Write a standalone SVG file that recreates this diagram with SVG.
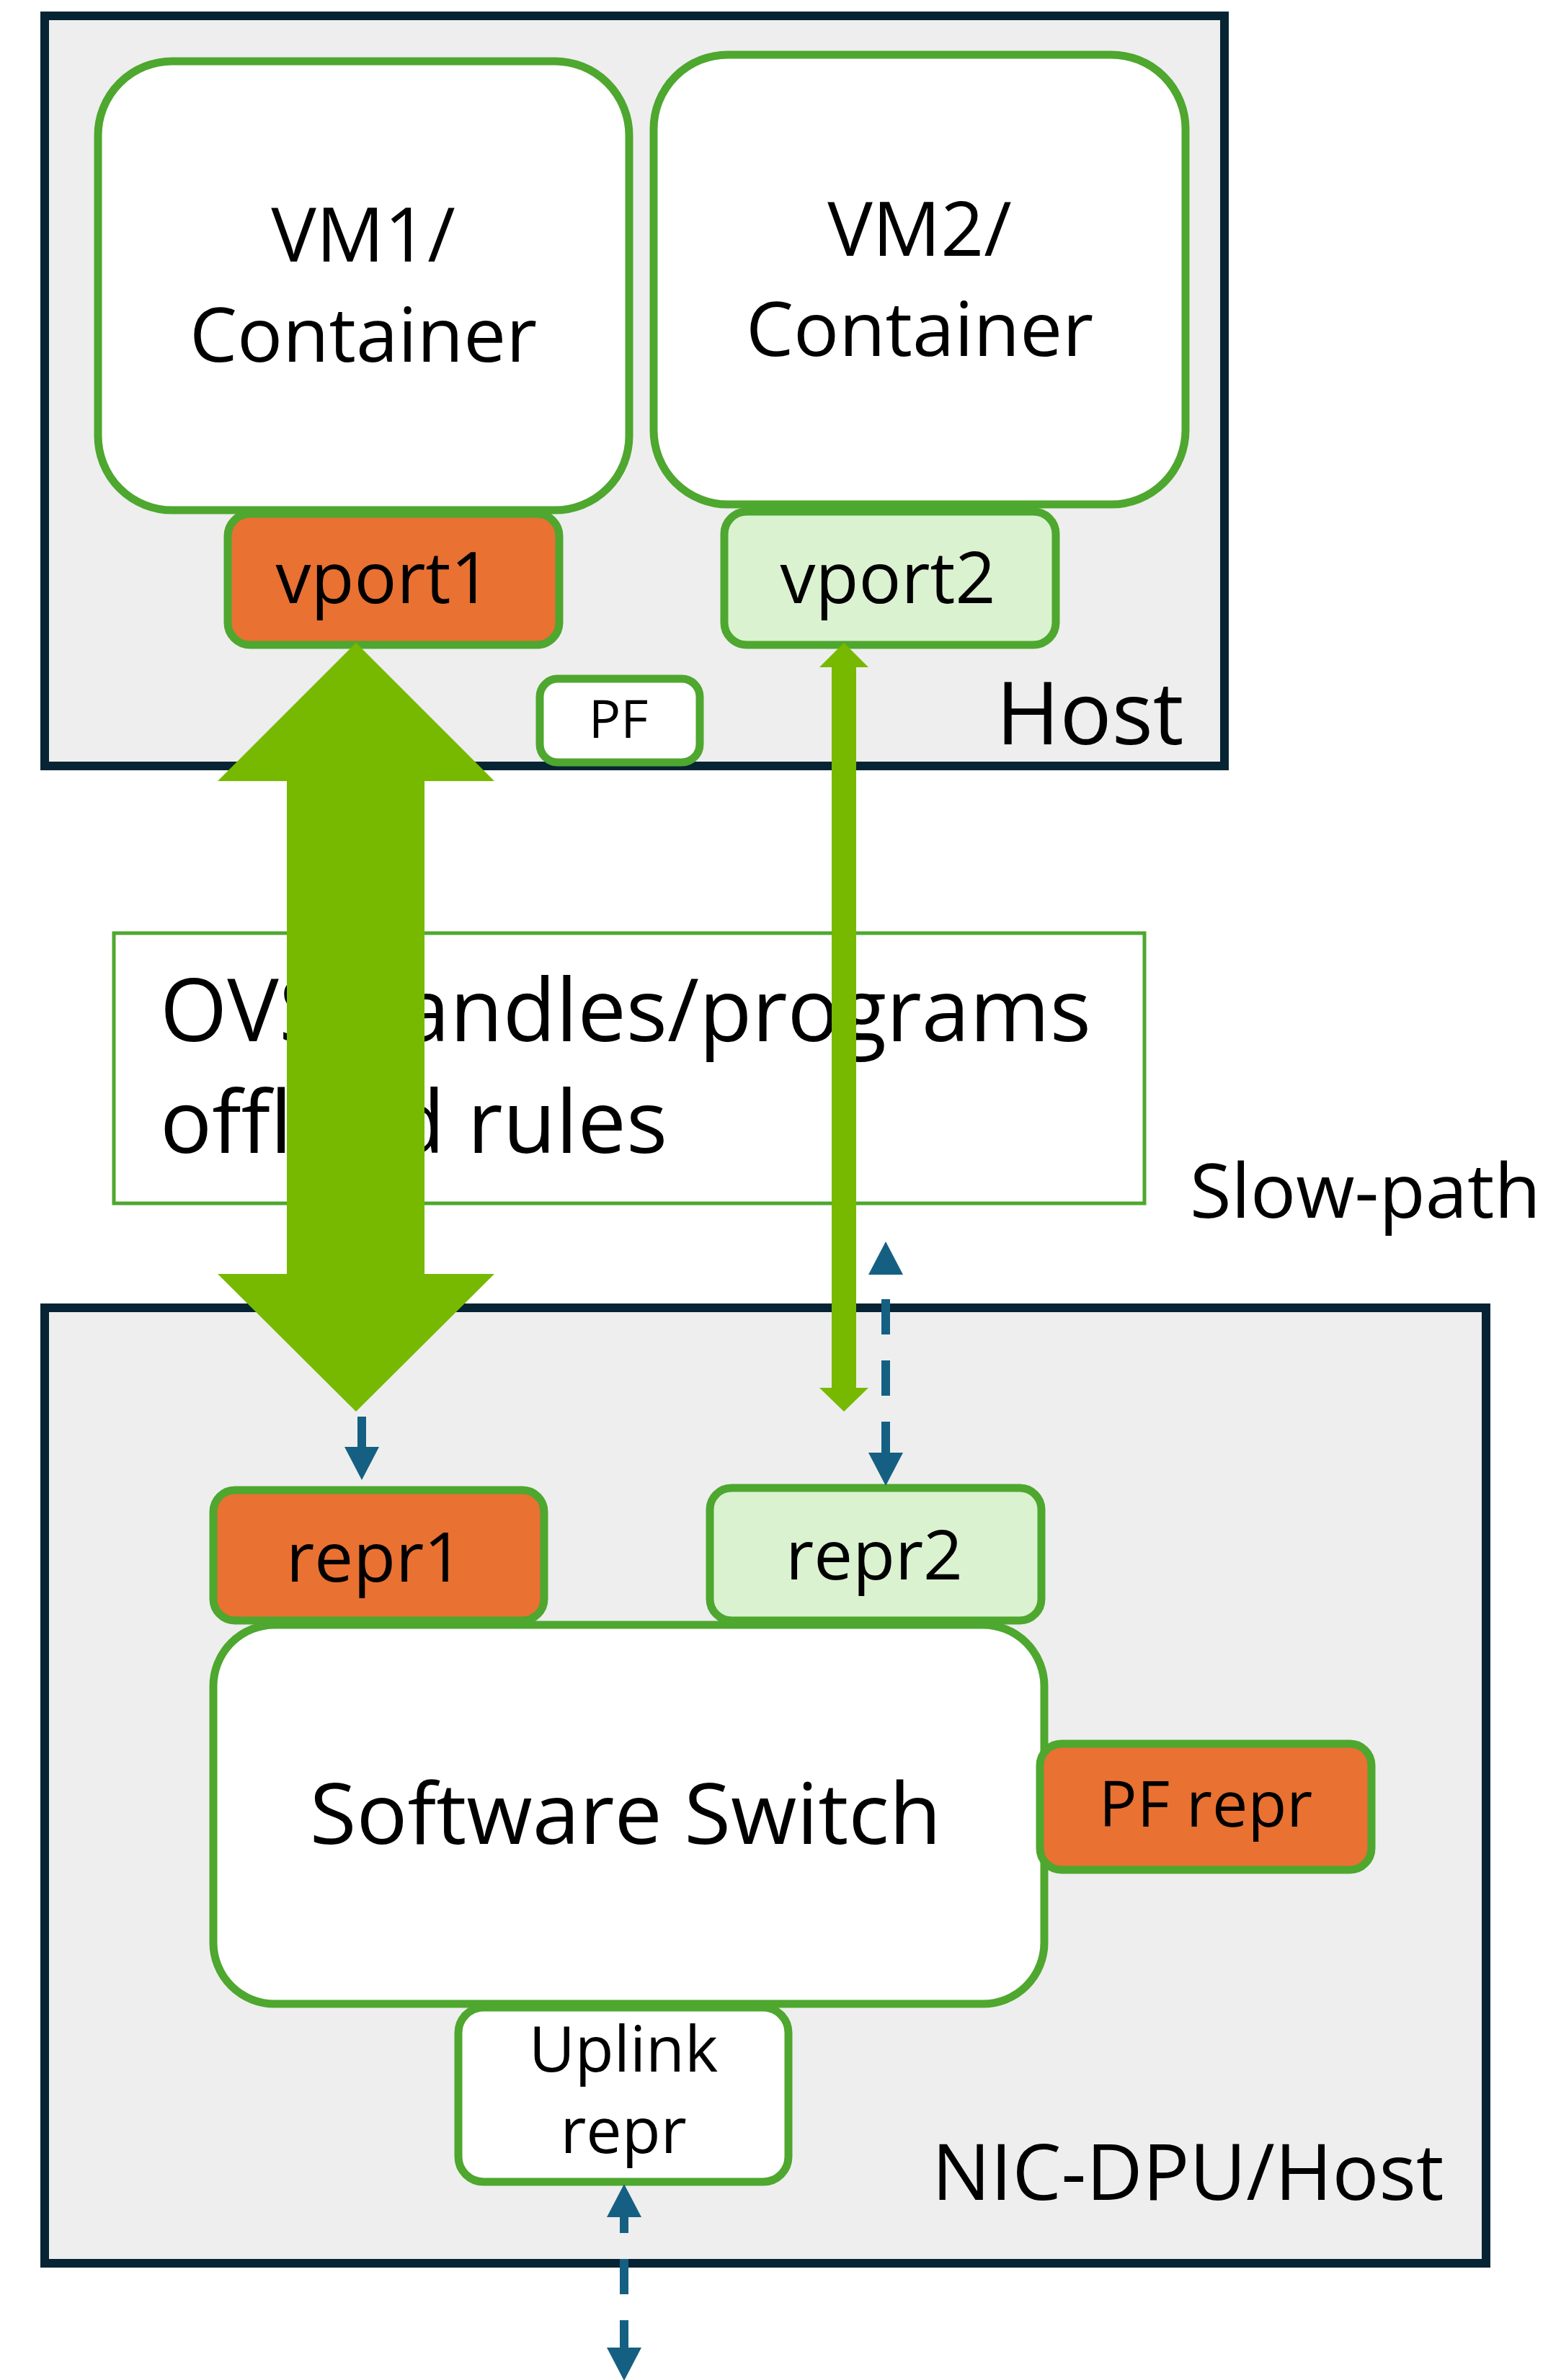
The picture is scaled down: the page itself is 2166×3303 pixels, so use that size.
<svg xmlns="http://www.w3.org/2000/svg" width="2166" height="3303" viewBox="0 0 2166 3303">
<defs>
<style>
.t{font-family:"Open Sans","Liberation Sans",sans-serif;fill:#000}
.m{text-anchor:middle}
.frame{fill:#EEEEEE;stroke:#062433;stroke-width:12}
.box{fill:#FFFFFF;stroke:#4EA72E;stroke-width:11}
.org{fill:#E97132;stroke:#4EA72E;stroke-width:11}
.lgr{fill:#DAF2D0;stroke:#4EA72E;stroke-width:11}
.blue{stroke:#156082;stroke-width:12;fill:none}
.big{fill:#76B900}
</style>
<marker id="bh" markerUnits="userSpaceOnUse" viewBox="0 0 46 48" refX="0" refY="24" markerWidth="46" markerHeight="48" orient="auto-start-reverse">
<path d="M0,0 L46,24 L0,48 Z" fill="#156082"/>
</marker>
</defs>

<g id="host">
<rect class="frame" x="62" y="22" width="1637" height="1041"/>
<text class="t" x="1382" y="1033" font-size="120">Host</text>
</g>

<g id="vm1">
<rect class="box" x="136" y="85" width="737" height="623" rx="103" ry="103"/>
<text class="t m" x="504" y="363" font-size="105">VM1/</text>
<text class="t m" x="504" y="502" font-size="105">Container</text>
</g>

<g id="vm2">
<rect class="box" x="907" y="76" width="738" height="624" rx="103" ry="103"/>
<text class="t m" x="1276" y="355" font-size="105">VM2/</text>
<text class="t m" x="1276" y="494" font-size="105">Container</text>
</g>

<g id="vport1">
<rect class="org" x="316" y="713" width="460" height="182" rx="31" ry="31"/>
<text class="t m" x="532" y="837" font-size="98">vport1</text>
</g>

<g id="vport2">
<rect class="lgr" x="1005" y="710" width="460" height="185" rx="31" ry="31"/>
<text class="t m" x="1232" y="837" font-size="98">vport2</text>
</g>

<g id="pf">
<rect class="box" x="749" y="942" width="222" height="116" rx="25" ry="25"/>
<text class="t m" x="858" y="1024" font-size="74">PF</text>
</g>

<g id="nic">
<rect class="frame" x="62" y="1815" width="2000" height="1326"/>
<text class="t" x="1293" y="3053" font-size="108">NIC-DPU/Host</text>
</g>

<g id="ovs">
<rect x="158" y="1295" width="1430" height="375" fill="#FFFFFF" stroke="#4EA72E" stroke-width="5"/>
<text class="t" x="222" y="1445" font-size="120">OVS handles/programs</text>
<text class="t" x="222" y="1600" font-size="120">offload rules</text>
</g>

<g id="slowpath">
<text class="t" x="1651" y="1690" font-size="105">Slow-path</text>
</g>

<g id="switch">
<rect class="box" x="296" y="2255" width="1153" height="526" rx="85" ry="85"/>
<text class="t m" x="868" y="2559" font-size="118">Software Switch</text>
</g>

<g id="repr1">
<rect class="org" x="296" y="2068" width="459" height="181" rx="30" ry="30"/>
<text class="t m" x="520" y="2195" font-size="96">repr1</text>
</g>

<g id="repr2">
<rect class="lgr" x="985" y="2065" width="460" height="184" rx="30" ry="30"/>
<text class="t m" x="1213" y="2192" font-size="96">repr2</text>
</g>

<g id="pfrepr">
<rect class="org" x="1443" y="2420" width="460" height="175" rx="30" ry="30"/>
<text class="t m" x="1673" y="2535" font-size="88">PF repr</text>
</g>

<g id="uplink">
<rect class="box" x="636" y="2786" width="458" height="242" rx="35" ry="35"/>
<text class="t m" x="865" y="2875" font-size="88">Uplink</text>
<text class="t m" x="865" y="2988" font-size="88">repr</text>
</g>

<g id="connectors">
<polygon class="big" points="494,892 686,1084 589,1084 589,1768 686,1768 494,1959 302,1768 398,1768 398,1084 302,1084"/>
<polygon class="big" points="1171,892 1205,926 1188,926 1188,1926 1205,1926 1171,1959 1137,1926 1154,1926 1154,926 1137,926"/>
<line class="blue" x1="1229" y1="1769" x2="1229" y2="2016" stroke-dasharray="49 36" stroke-dashoffset="51" marker-start="url(#bh)" marker-end="url(#bh)"/>
<line class="blue" x1="502" y1="1966" x2="502" y2="2008" marker-end="url(#bh)"/>
<line class="blue" x1="866" y1="3077" x2="866" y2="3258" stroke-dasharray="49 36" stroke-dashoffset="27" marker-start="url(#bh)" marker-end="url(#bh)"/>
</g>
</svg>
